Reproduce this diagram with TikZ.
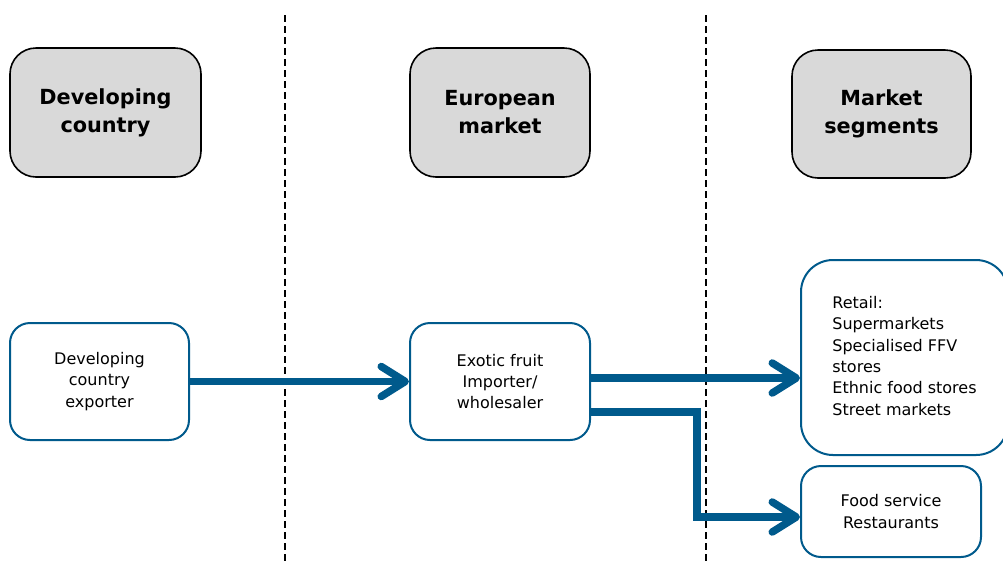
\documentclass[tikz,border=0pt]{standalone}
\usepackage{fontspec}
\setmainfont{DejaVu Sans}
\usetikzlibrary{arrows.meta}
\definecolor{flowblue}{HTML}{005A8C}
\definecolor{hdrgray}{HTML}{D9D9D9}
\begin{document}
\begin{tikzpicture}[x=1pt,y=-1pt,
  hdr/.style={draw=black, fill=hdrgray, line width=1.6pt, rounded corners=26pt,
    align=center, inner sep=0pt, font=\bfseries\fontsize{20.8}{28}\selectfont},
  actor/.style={draw=flowblue, fill=white, line width=2pt, rounded corners=20pt,
    align=center, inner sep=0pt, font=\fontsize{16}{21.3}\selectfont},
  divider/.style={black, line width=1.3pt, dash pattern=on 7pt off 4pt},
  flow/.style={flowblue, line width=7.5pt,
    -{Straight Barb[length=24pt,width=30pt,round]}}
]
\clip (0,0) rectangle (1003,566);
\fill[white] (0,0) rectangle (1003,566);
% dividers
\coordinate (d1t) at (285,15); \coordinate (d1b) at (285,562);
\coordinate (d2t) at (706,15); \coordinate (d2b) at (706,562);
\draw[divider] (d1t) -- (d1b);
\draw[divider] (d2t) -- (d2b);
% headers
\node[hdr, minimum width=191pt, minimum height=129pt] (h1) at (105.5,112.5) {Developing\\country};
\node[hdr, minimum width=180pt, minimum height=129pt] (h2) at (500,112.5) {European\\market};
\node[hdr, minimum width=179pt, minimum height=128pt] (h3) at (881.5,114) {Market\\segments};
% actors
\node[actor, minimum width=179pt, minimum height=117pt] (exp) at (99.5,381.5) {Developing\\country\\exporter};
\node[actor, minimum width=180pt, minimum height=117pt] (imp) at (500,381.5) {Exotic fruit\\Importer/\\wholesaler};
\node[actor, rounded corners=32pt, minimum width=207pt, minimum height=195pt] (ret) at (904.5,357.5) {\begin{tabular}{@{}l@{}}Retail:\\Supermarkets\\Specialised FFV\\stores\\Ethnic food stores\\Street markets\end{tabular}};
\node[actor, minimum width=180pt, minimum height=91pt] (food) at (891,511.5) {Food service\\Restaurants};
% flows
\draw[flow] (exp) -- (imp);
\coordinate (a2) at ([yshift=3.5pt]imp.east);
\draw[flow] (a2) -- (a2 -| ret.west);
\coordinate (a3) at ([yshift=-30.5pt]imp.east);
\coordinate (bend) at (697,0);
\coordinate (fin) at ([yshift=-5.5pt]food.west);
\draw[flow, rounded corners=0pt] (a3) -- (a3 -| bend) |- (fin);
\end{tikzpicture}
\end{document}
